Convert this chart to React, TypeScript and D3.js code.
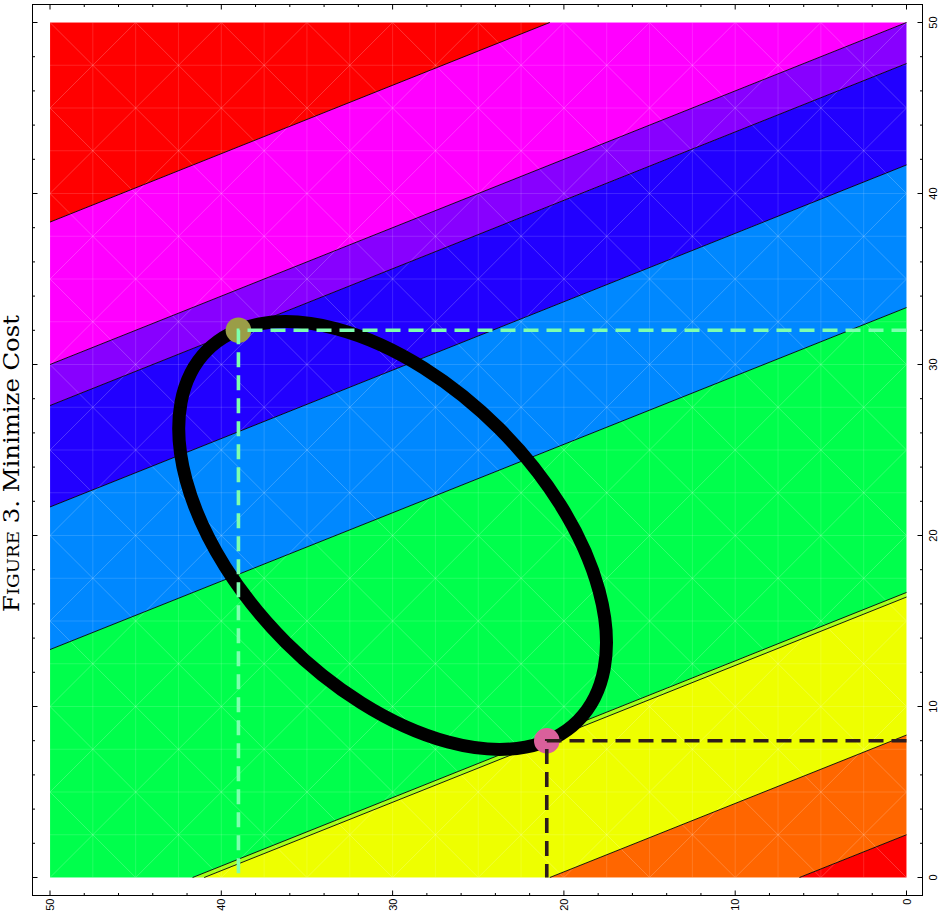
import React from "react";
import * as d3 from "d3";

// cost = COST_X * x + COST_Y * y, contour levels
const COST_X = 0.4;
const COST_Y = 1;
const levels = [2.5, 8.33, 16.4, 16.67, 33.33, 41.67, 47.6, 50, 58.33];
const bandColors = [
  "#ff0000", "#ff6600", "#eeff00", "#a4ff1a", "#00ff4c",
  "#0088ff", "#2200ff", "#8800ff", "#ff00ff", "#ff0000"
];

// constraint ellipse: (x-cx)^2 - (x-cx)(y-cy) + (y-cy)^2 = 117
const ellipseCenter = [30, 20];
const ellipseAxes = [Math.sqrt(234), Math.sqrt(78)];

// min / max cost points on the ellipse
const points = [
  { x: 39, y: 32, fill: "#9a9d47", dash: "#7dffae" },
  { x: 21, y: 8, fill: "#d9609b", dash: "#2e1c1c" }
];

const majorTicks = [0, 10, 20, 30, 40, 50];
const minorTicks = d3.range(0, 51, 2);

const W = 942;
const H = 919;
const frame = { left: 32.5, right: 922.5, top: 4.5, bottom: 895.5 };

const x = d3.scaleLinear().domain([50, 0]).range([50, 906.5]);
const y = d3.scaleLinear().domain([0, 50]).range([877.5, 22.5]);

type P = [number, number];
const cost = (p: P) => COST_X * p[0] + COST_Y * p[1];

// Sutherland-Hodgman against one half plane g(p) >= 0
function clip(poly: P[], g: (p: P) => number): P[] {
  const out: P[] = [];
  for (let i = 0; i < poly.length; i++) {
    const a = poly[i];
    const b = poly[(i + 1) % poly.length];
    const ga = g(a);
    const gb = g(b);
    if (ga >= 0) out.push(a);
    if ((ga >= 0) !== (gb >= 0)) {
      const t = ga / (ga - gb);
      out.push([a[0] + t * (b[0] - a[0]), a[1] + t * (b[1] - a[1])]);
    }
  }
  return out;
}

const square: P[] = [[0, 0], [50, 0], [50, 50], [0, 50]];
const toPath = (poly: P[]) =>
  poly.length ? "M" + poly.map((p) => `${x(p[0])},${y(p[1])}`).join("L") + "Z" : "";

const bands = bandColors.map((c, i) => {
  let poly = square;
  if (i > 0) poly = clip(poly, (p) => cost(p) - levels[i - 1]);
  if (i < levels.length) poly = clip(poly, (p) => levels[i] - cost(p));
  return { color: c, d: toPath(poly) };
});

const contourLines = levels.map((L) => {
  const x0 = Math.max(0, (L - COST_Y * 50) / COST_X);
  const x1 = Math.min(50, L / COST_X);
  return { x1: x(x0), y1: y((L - COST_X * x0) / COST_Y), x2: x(x1), y2: y((L - COST_X * x1) / COST_Y) };
});

// faint triangulation-like mesh
const gridVals = d3.range(0, 50 + 0.01, 2.5);
const diagVals = d3.range(-50, 100 + 0.01, 5);

export default function App() {
  const [cx, cy] = ellipseCenter;
  const rx = Math.abs(x(ellipseAxes[0]) - x(0));
  const ry = Math.abs(y(ellipseAxes[1]) - y(0));
  return (
    <svg width={W} height={H} style={{ position: "absolute", left: 0, top: 0, background: "#fff" }}>
      <defs>
        <clipPath id="plot">
          <rect x={x(50)} y={y(50)} width={x(0) - x(50)} height={y(0) - y(50)} />
        </clipPath>
      </defs>

      {bands.map((b, i) => (
        <path key={i} d={b.d} fill={b.color} />
      ))}

      <g clipPath="url(#plot)" stroke="#fff" strokeWidth={0.7}>
        <g strokeOpacity={0.2}>
          {gridVals.map((v) => (
            <g key={"m" + v}>
              <line x1={x(v)} x2={x(v)} y1={y(0)} y2={y(50)} />
              <line x1={x(0)} x2={x(50)} y1={y(v)} y2={y(v)} />
            </g>
          ))}
        </g>
        <g strokeOpacity={0.3}>
          {diagVals.map((c) => (
            <g key={"d" + c}>
              <line x1={x(c)} y1={y(0)} x2={x(c - 50)} y2={y(50)} />
              <line x1={x(c)} y1={y(0)} x2={x(c + 50)} y2={y(50)} />
            </g>
          ))}
        </g>
      </g>

      {contourLines.map((l, i) => (
        <line key={i} {...l} stroke="#000" strokeWidth={0.9} />
      ))}

      <ellipse
        cx={x(cx)}
        cy={y(cy)}
        rx={rx}
        ry={ry}
        transform={`rotate(45, ${x(cx)}, ${y(cy)})`}
        fill="none"
        stroke="#000"
        strokeWidth={13}
      />

      {points.map((p, i) => (
        <circle key={i} cx={x(p.x)} cy={y(p.y)} r={12.8} fill={p.fill} />
      ))}
      {points.map((p, i) => (
        <polyline
          key={i}
          points={`${x(0)},${y(p.y)} ${x(p.x)},${y(p.y)} ${x(p.x)},${y(0)}`}
          fill="none"
          stroke={p.dash}
          strokeWidth={3.6}
          strokeDasharray="15 8"
        />
      ))}

      {/* frame and ticks */}
      <rect
        x={frame.left}
        y={frame.top}
        width={frame.right - frame.left}
        height={frame.bottom - frame.top}
        fill="none"
        stroke="#000"
        strokeWidth={1}
      />
      <g stroke="#000" strokeWidth={1}>
        {minorTicks.map((t) => {
          const len = t % 10 === 0 ? 5 : 2.5;
          return (
            <g key={t}>
              <line x1={x(t)} x2={x(t)} y1={frame.bottom} y2={frame.bottom - len} />
              <line x1={x(t)} x2={x(t)} y1={frame.top} y2={frame.top + len} />
              <line y1={y(t)} y2={y(t)} x1={frame.right} x2={frame.right - len} />
              <line y1={y(t)} y2={y(t)} x1={frame.left} x2={frame.left + len} />
            </g>
          );
        })}
      </g>

      <g fontFamily="Liberation Sans, sans-serif" fontSize={11} fill="#000">
        {majorTicks.map((t) => (
          <text
            key={"b" + t}
            transform={`translate(${x(t)}, ${frame.bottom + 3}) rotate(-90)`}
            textAnchor="end"
            dominantBaseline="central"
          >
            {t}
          </text>
        ))}
        {majorTicks.map((t) => (
          <text
            key={"r" + t}
            transform={`translate(${frame.right + 14}, ${y(t)}) rotate(-90)`}
            textAnchor="middle"
          >
            {t}
          </text>
        ))}
      </g>

      <text
        transform="translate(19, 463.5) rotate(-90)"
        textAnchor="middle"
        fontFamily="DejaVu Serif, serif"
        fontSize={22}
        textLength={297}
        lengthAdjust="spacingAndGlyphs"
      >
        F<tspan fontSize={16.5}>IGURE</tspan> 3.  Minimize Cost
      </text>
    </svg>
  );
}
